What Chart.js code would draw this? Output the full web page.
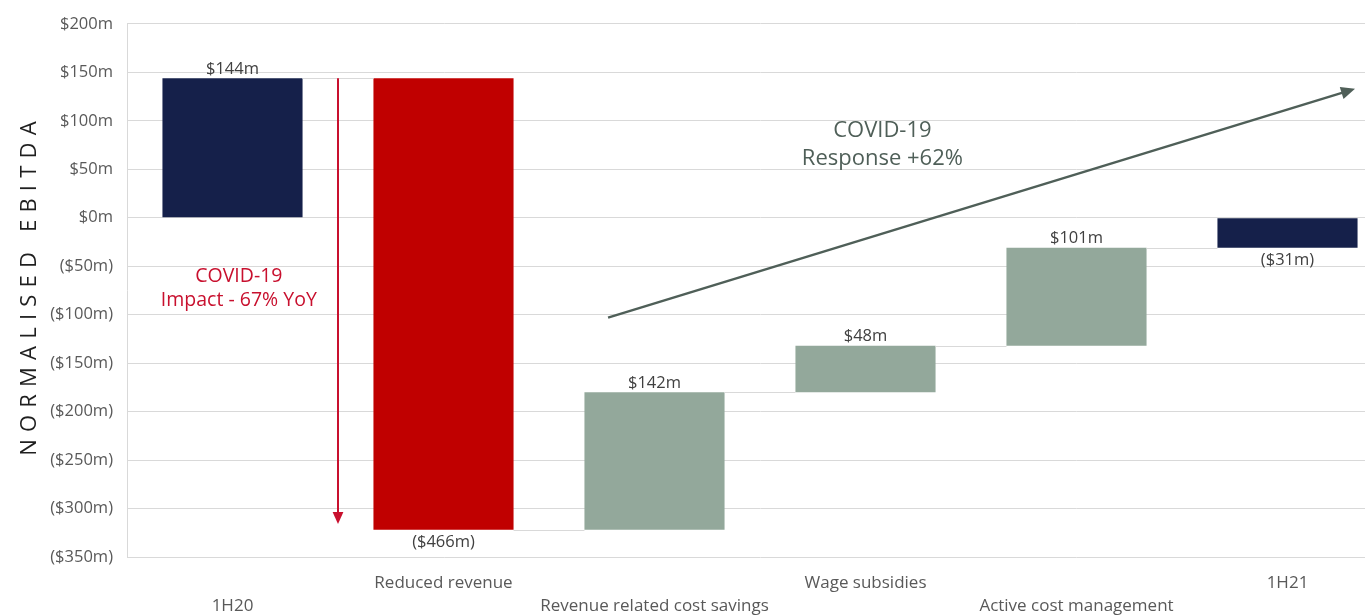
<!DOCTYPE html>
<html>
<head>
<meta charset="utf-8">
<script src="https://cdn.jsdelivr.net/npm/chart.js@4"></script>
<style>
html,body{margin:0;padding:0;background:#fff;overflow:hidden;}
#wrap{width:1393px;height:616px;position:relative;}
</style>
</head>
<body>
<div id="wrap"><canvas id="c"></canvas></div>
<script>
// ---- data ----
const categories = ['1H20','Reduced revenue','Revenue related cost savings','Wage subsidies','Active cost management','1H21'];
const deltas = [144, -466, 142, 48, 101, -31];
const isTotal = [true, false, false, false, false, true];
const yTicks = [200,150,100,50,0,-50,-100,-150,-200,-250,-300,-350];
const yTitle = 'NORMALISED EBITDA';
const impactText = ['COVID-19','Impact - 67% YoY'];
const responseText = ['COVID-19','Response +62%'];

// annotation anchors (category index, value)
const impactArrow = {from:[0.5,144], to:[0.5,-316]};
const responseArrow = {from:[1.78,-103], to:[5.32,133]};
const impactLabelAt = [0.03,-73];
const responseLabelAt = [3.08,75];

// ---- build floating bars ----
const floats = [];
let run = 0;
deltas.forEach((d,i)=>{
  if(isTotal[i]){ floats.push([0,d]); run = d; }
  else { floats.push([run, run+d]); run += d; }
});
const colors = deltas.map((d,i)=> isTotal[i] ? '#15204a' : (d<0 ? '#c00000' : '#93a89b'));
const xLabels = categories.map((c,i)=> i%2===0 ? ['',c] : [c,'']);
const fmt = v => v<0 ? '($'+Math.abs(v)+'m)' : '$'+v+'m';

const FONT = '"Open Sans", "Noto Sans", sans-serif';

function arrow(ctx,x1,y1,x2,y2,color,w,head){
  const a = Math.atan2(y2-y1,x2-x1);
  ctx.save();
  ctx.strokeStyle=color; ctx.fillStyle=color; ctx.lineWidth=w;
  ctx.beginPath(); ctx.moveTo(x1,y1);
  ctx.lineTo(x2-Math.cos(a)*head*0.8, y2-Math.sin(a)*head*0.8); ctx.stroke();
  ctx.beginPath();
  ctx.moveTo(x2,y2);
  ctx.lineTo(x2-head*Math.cos(a)+head*0.45*Math.sin(a), y2-head*Math.sin(a)-head*0.45*Math.cos(a));
  ctx.lineTo(x2-head*Math.cos(a)-head*0.45*Math.sin(a), y2-head*Math.sin(a)+head*0.45*Math.cos(a));
  ctx.closePath(); ctx.fill();
  ctx.restore();
}

const deco = {
  id:'deco',
  beforeDraw(chart){
    const ctx = chart.ctx;
    ctx.save();
    ctx.translate(30, 285);
    ctx.rotate(-Math.PI/2);
    ctx.font = '22px ' + FONT;
    ctx.letterSpacing = '7.2px';
    ctx.fillStyle = '#1f1f1f';
    ctx.textAlign = 'center';
    ctx.textBaseline = 'middle';
    ctx.fillText(yTitle, 0, 0);
    ctx.restore();
  },
  afterDatasetsDraw(chart){
    const ctx = chart.ctx;
    const xs = chart.scales.x, ys = chart.scales.y;
    const meta = chart.getDatasetMeta(0);
    // connectors
    ctx.save();
    ctx.strokeStyle = '#d9d9d9'; ctx.lineWidth = 1;
    for(let i=0;i<floats.length-1;i++){
      const a = meta.data[i], b = meta.data[i+1];
      const lvl = floats[i][1];
      const y = Math.round(ys.getPixelForValue(lvl))+0.5;
      ctx.beginPath();
      ctx.moveTo(a.x + a.width/2, y);
      ctx.lineTo(b.x - b.width/2, y);
      ctx.stroke();
    }
    ctx.restore();
    // value labels
    ctx.save();
    ctx.font = '16.5px ' + FONT;
    ctx.fillStyle = '#404040';
    ctx.textAlign = 'center';
    deltas.forEach((d,i)=>{
      const el = meta.data[i];
      const top = ys.getPixelForValue(Math.max(...floats[i]));
      const bot = ys.getPixelForValue(Math.min(...floats[i]));
      if(d>=0){ ctx.textBaseline='bottom'; ctx.fillText(fmt(d), el.x, top-1); }
      else { ctx.textBaseline='top'; ctx.fillText(fmt(d), el.x, bot+4); }
    });
    ctx.restore();
    // arrows
    arrow(ctx, xs.getPixelForValue(impactArrow.from[0]), ys.getPixelForValue(impactArrow.from[1]),
      xs.getPixelForValue(impactArrow.to[0]), ys.getPixelForValue(impactArrow.to[1]), '#c8102e', 2, 12);
    arrow(ctx, xs.getPixelForValue(responseArrow.from[0]), ys.getPixelForValue(responseArrow.from[1]),
      xs.getPixelForValue(responseArrow.to[0]), ys.getPixelForValue(responseArrow.to[1]), '#4f5f58', 2.5, 14);
    // annotation text
    ctx.save();
    ctx.textAlign='center'; ctx.textBaseline='middle';
    ctx.font = '19.5px ' + FONT; ctx.fillStyle = '#c8102e';
    let cx = xs.getPixelForValue(impactLabelAt[0]), cy = ys.getPixelForValue(impactLabelAt[1]);
    ctx.fillText(impactText[0], cx, cy-12); ctx.fillText(impactText[1], cx, cy+12);
    ctx.font = '22px ' + FONT; ctx.fillStyle = '#4f5f58';
    cx = xs.getPixelForValue(responseLabelAt[0]); cy = ys.getPixelForValue(responseLabelAt[1]);
    ctx.fillText(responseText[0], cx, cy-14); ctx.fillText(responseText[1], cx, cy+14);
    ctx.restore();
  }
};

new Chart(document.getElementById('c'), {
  type:'bar',
  data:{ labels:xLabels, datasets:[{ data:floats, backgroundColor:colors, borderWidth:0, barPercentage:0.664, categoryPercentage:1 }]},
  options:{
    responsive:true, maintainAspectRatio:false, animation:false,
    layout:{ padding:{ top:14, left:0, right:0, bottom:0 } },
    plugins:{ legend:{display:false}, tooltip:{enabled:false} },
    scales:{
      x:{
        grid:{display:false, drawTicks:false},
        border:{display:false},
        ticks:{ color:'#595959', font:{family:FONT, size:17, lineHeight:1.35}, padding:15, maxRotation:0, autoSkip:false },
        afterFit(s){ s.height = 59; }
      },
      y:{
        min:-350, max:200,
        afterBuildTicks(s){ s.ticks = yTicks.map(v=>({value:v})); },
        grid:{ color:'#d9d9d9', drawTicks:false },
        border:{ color:'#d9d9d9' },
        ticks:{ color:'#595959', font:{family:FONT, size:16.5}, padding:14, callback:v=>fmt(v) },
        afterFit(s){ s.width = 127; }
      }
    }
  },
  plugins:[deco]
});
</script>
</body>
</html>
